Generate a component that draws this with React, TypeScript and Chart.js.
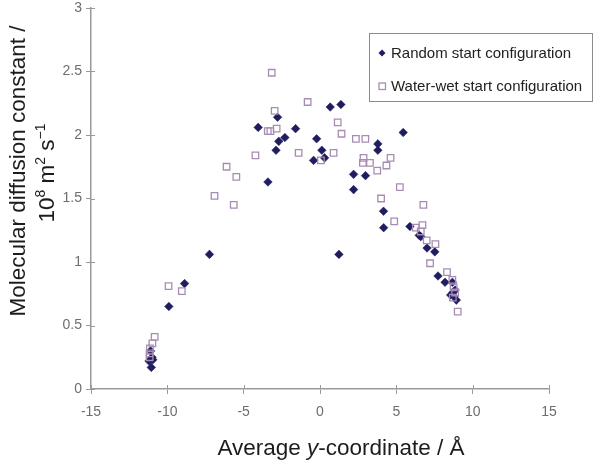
import React, { useEffect, useRef } from "react";
import { Chart, registerables } from "chart.js";

Chart.register(...registerables);

// ---- data ----
const randomX = [
  -11.1, -11.0, -11.2, -11.05, -10.95, -9.9, -8.87, -7.24, -4.05, -3.41,
  -2.78, -2.7, -2.3, -2.88, -1.6, -0.22, 0.12, 0.3, -0.42, 0.67,
  1.37, 1.24, 2.2, 2.98, 2.2, 3.79, 3.79, 4.16, 4.17, 5.45,
  5.89, 6.5, 6.6, 7.01, 7.52, 7.73, 8.19, 8.67, 8.56, 8.78,
  8.93, 8.71, 8.85,
];
const randomY = [
  0.3, 0.25, 0.22, 0.17, 0.23, 0.65, 0.83, 1.06, 2.06, 1.63,
  2.14, 1.95, 1.98, 1.88, 2.05, 1.97, 1.88, 1.82, 1.8, 2.22,
  2.24, 1.06, 1.69, 1.68, 1.57, 1.93, 1.88, 1.4, 1.27, 2.02,
  1.28, 1.21, 1.2, 1.11, 1.08, 0.89, 0.84, 0.84, 0.74, 0.73,
  0.7, 0.76, 0.78,
];
const waterX = [
  -11.16, -11.16, -11.14, -10.98, -10.83, -9.92, -9.05, -6.91, -6.12, -5.65,
  -5.48, -4.23, -3.42, -3.25, -2.84, -3.16, -2.97, -1.4, -0.81, 0.06,
  0.89, 1.16, 1.41, 2.35, 2.97, 2.85, 2.81, 3.27, 3.75, 4.35,
  4.62, 5.23, 4.0, 4.86, 6.77, 6.27, 6.71, 6.6, 6.99, 7.56,
  7.21, 8.32, 8.67, 8.75, 8.85, 8.7, 9.02,
];
const waterY = [
  0.25, 0.28, 0.32, 0.36, 0.41, 0.81, 0.77, 1.52, 1.75, 1.45,
  1.67, 1.84, 2.03, 2.03, 2.05, 2.49, 2.19, 1.86, 2.26, 1.8,
  1.86, 2.1, 2.01, 1.97, 1.97, 1.82, 1.78, 1.78, 1.72, 1.76,
  1.82, 1.59, 1.5, 1.32, 1.45, 1.27, 1.29, 1.24, 1.17, 1.14,
  0.99, 0.92, 0.86, 0.8, 0.76, 0.72, 0.61,
];
const seriesLabels = ["Random start configuration", "Water-wet start configuration"];
const xTickValues = [-15, -10, -5, 0, 5, 10, 15];
const xTickLabels = ["-15", "-10", "-5", "0", "5", "10", "15"];
const yTickValues = [0, 0.5, 1, 1.5, 2, 2.5, 3];
const yTickLabels = ["0", "0.5", "1", "1.5", "2", "2.5", "3"];
const yTitleLine1 = "Molecular diffusion constant /";
const yTitleLine2 = [
  { t: "10", sup: false },
  { t: "8", sup: true },
  { t: " m", sup: false },
  { t: "2", sup: true },
  { t: " s", sup: false },
  { t: "\u22121", sup: true },
];
const xTitleParts = [
  { t: "Average ", italic: false },
  { t: "y", italic: true },
  { t: "-coordinate / \u00C5", italic: false },
];

const FONT = "'Liberation Sans', Arial, Helvetica, sans-serif";
const RANDOM_COLOR = "#1f1c5f";
const WATER_COLOR = "#a78db4";
const AXIS_COLOR = "#9a9a9a";
const TICK_TEXT = "#6e6e6e";
const TITLE_TEXT = "#1c1c1c";

function drawSegmentsRotated(ctx: CanvasRenderingContext2D, segs: { t: string; sup: boolean }[], bx: number, cy: number, size: number) {
  ctx.save();
  ctx.translate(bx, cy);
  ctx.rotate(-Math.PI / 2);
  ctx.textBaseline = "alphabetic";
  ctx.textAlign = "left";
  let total = 0;
  const widths: number[] = [];
  for (const s of segs) {
    ctx.font = `${s.sup ? size * 0.62 : size}px ${FONT}`;
    const w = ctx.measureText(s.t).width;
    widths.push(w);
    total += w;
  }
  let x = -total / 2;
  segs.forEach((s, i) => {
    ctx.font = `${s.sup ? size * 0.62 : size}px ${FONT}`;
    ctx.fillText(s.t, x, s.sup ? -size * 0.38 : 0);
    x += widths[i];
  });
  ctx.restore();
}

const decorPlugin = {
  id: "decor",
  afterDraw(chart: any) {
    const ctx: CanvasRenderingContext2D = chart.ctx;
    const xs = chart.scales.x;
    const ys = chart.scales.y;
    const area = chart.chartArea;
    ctx.save();
    // inner half of crossing tick marks
    ctx.strokeStyle = AXIS_COLOR;
    ctx.lineWidth = 1;
    ctx.beginPath();
    for (const v of xTickValues) {
      const px = Math.round(xs.getPixelForValue(v)) + 0.5;
      ctx.moveTo(px, area.bottom);
      ctx.lineTo(px, area.bottom - 4);
    }
    for (const v of yTickValues) {
      const py = Math.round(ys.getPixelForValue(v)) + 0.5;
      ctx.moveTo(area.left, py);
      ctx.lineTo(area.left + 4, py);
    }
    ctx.stroke();

    // y title
    ctx.fillStyle = TITLE_TEXT;
    const size = 22.5;
    drawSegmentsRotated(ctx, [{ t: yTitleLine1, sup: false }], 25, 171, size);
    drawSegmentsRotated(ctx, yTitleLine2, 54, 173, size);

    // x title
    ctx.textBaseline = "alphabetic";
    ctx.textAlign = "left";
    let total = 0;
    const w: number[] = [];
    for (const p of xTitleParts) {
      ctx.font = `${p.italic ? "italic " : ""}${size}px ${FONT}`;
      const m = ctx.measureText(p.t).width;
      w.push(m);
      total += m;
    }
    let x = 341 - total / 2;
    xTitleParts.forEach((p, i) => {
      ctx.font = `${p.italic ? "italic " : ""}${size}px ${FONT}`;
      ctx.fillText(p.t, x, 455);
      x += w[i];
    });

    // legend
    const lx = 369.5, ly = 33.5, lw = 223, lh = 68;
    ctx.fillStyle = "#ffffff";
    ctx.fillRect(lx, ly, lw, lh);
    ctx.strokeStyle = "#8c8c8c";
    ctx.lineWidth = 1;
    ctx.strokeRect(lx, ly, lw, lh);
    // diamond
    ctx.fillStyle = RANDOM_COLOR;
    ctx.beginPath();
    ctx.moveTo(382, 49.5);
    ctx.lineTo(385.5, 53);
    ctx.lineTo(382, 56.5);
    ctx.lineTo(378.5, 53);
    ctx.closePath();
    ctx.fill();
    // square
    ctx.strokeStyle = WATER_COLOR;
    ctx.lineWidth = 1.3;
    ctx.strokeRect(379, 83, 6.5, 6.5);
    ctx.fillStyle = "#222222";
    ctx.font = `15px ${FONT}`;
    ctx.textBaseline = "middle";
    ctx.fillText(seriesLabels[0], 391, 53.5);
    ctx.fillText(seriesLabels[1], 391, 86.5);
    ctx.restore();
  },
};

export default function App() {
  const ref = useRef<HTMLCanvasElement | null>(null);
  useEffect(() => {
    if (!ref.current) return;
    const chart = new Chart(ref.current, {
      type: "scatter",
      data: {
        datasets: [
          {
            label: seriesLabels[0],
            data: randomX.map((x, i) => ({ x, y: randomY[i] })),
            pointStyle: "rectRot",
            pointRadius: 4.3,
            backgroundColor: RANDOM_COLOR,
            borderColor: RANDOM_COLOR,
            borderWidth: 0.5,
            order: 1,
          },
          {
            label: seriesLabels[1],
            data: waterX.map((x, i) => ({ x, y: waterY[i] })),
            pointStyle: "rect",
            pointRadius: 4.6,
            backgroundColor: "rgba(255,255,255,0)",
            borderColor: WATER_COLOR,
            borderWidth: 1.3,
            order: 0,
          },
        ],
      },
      options: {
        animation: false,
        responsive: false,
        devicePixelRatio: 1,
        layout: { padding: { left: 0, top: 8, right: 51, bottom: 0 } },
        plugins: {
          legend: { display: false },
          tooltip: { enabled: false },
          title: { display: false },
        },
        scales: {
          x: {
            type: "linear",
            min: -15,
            max: 15,
            ticks: {
              stepSize: 5,
              color: TICK_TEXT,
              font: { family: FONT, size: 14 },
              padding: 10,
              maxRotation: 0,
              callback: (v: any) => {
                const i = xTickValues.indexOf(Number(v));
                return i >= 0 ? xTickLabels[i] : "";
              },
            },
            grid: { drawOnChartArea: false, drawTicks: true, tickLength: 5, color: AXIS_COLOR, lineWidth: 1 },
            border: { display: true, color: AXIS_COLOR, width: 1.5 },
            afterFit: (s: any) => {
              s.height = 76;
            },
          },
          y: {
            type: "linear",
            min: 0,
            max: 3,
            ticks: {
              stepSize: 0.5,
              color: TICK_TEXT,
              font: { family: FONT, size: 14 },
              padding: 4,
              callback: (v: any) => {
                const i = yTickValues.indexOf(Number(v));
                return i >= 0 ? yTickLabels[i] : "";
              },
            },
            grid: { drawOnChartArea: false, drawTicks: true, tickLength: 5, color: AXIS_COLOR, lineWidth: 1 },
            border: { display: true, color: AXIS_COLOR, width: 1.5 },
            afterFit: (s: any) => {
              s.width = 91;
              s.paddingTop = 0;
              s.paddingBottom = 0;
            },
          },
        },
      },
      plugins: [decorPlugin],
    } as any);
    return () => chart.destroy();
  }, []);
  return (
    <div style={{ position: "absolute", left: 0, top: 0, width: 600, height: 465, background: "#fff" }}>
      <canvas ref={ref} width={600} height={465} style={{ display: "block", width: 600, height: 465 }} />
    </div>
  );
}
